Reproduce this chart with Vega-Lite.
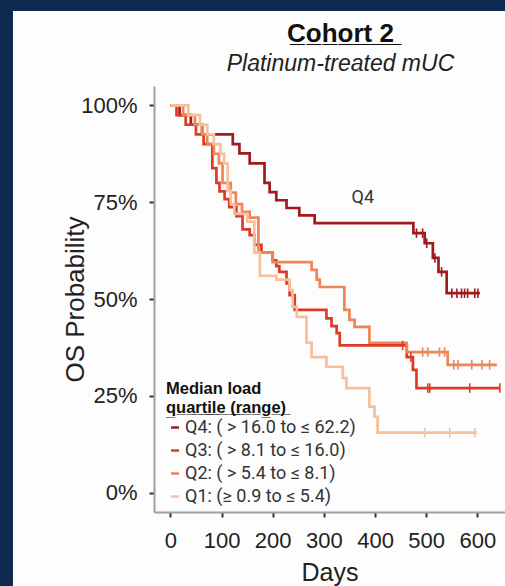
{
  "$schema": "https://vega.github.io/schema/vega-lite/v6.json",
  "width": 351,
  "height": 426,
  "autosize": {"type": "none"},
  "padding": {"left": 154, "top": 86, "right": 0, "bottom": 74},
  "background": "#0f2a50",
  "config": {"font": "Liberation Sans", "view": {"stroke": null}},
  "title": {
    "text": "C\u0332o\u0332h\u0332o\u0332r\u0332t\u0332 \u03322\u0332",
    "subtitle": "Platinum-treated mUC",
    "font": "Liberation Sans",
    "fontSize": 26,
    "fontWeight": "bold",
    "color": "#111111",
    "subtitleFont": "Liberation Sans",
    "subtitleFontSize": 23,
    "subtitleFontStyle": "italic",
    "subtitleColor": "#222222",
    "subtitlePadding": 6,
    "anchor": "middle",
    "frame": "group",
    "dx": 11,
    "offset": -65,
    "zindex": 1
  },
  "datasets": {
    "km": [
      {"g": "Q4", "day": 0, "p": 1.0}, {"g": "Q4", "day": 18, "p": 0.975}, {"g": "Q4", "day": 40, "p": 0.95},
      {"g": "Q4", "day": 62, "p": 0.925}, {"g": "Q4", "day": 122, "p": 0.9}, {"g": "Q4", "day": 135, "p": 0.876},
      {"g": "Q4", "day": 155, "p": 0.85}, {"g": "Q4", "day": 184, "p": 0.8}, {"g": "Q4", "day": 194, "p": 0.776},
      {"g": "Q4", "day": 207, "p": 0.755}, {"g": "Q4", "day": 227, "p": 0.735}, {"g": "Q4", "day": 252, "p": 0.716},
      {"g": "Q4", "day": 282, "p": 0.696}, {"g": "Q4", "day": 475, "p": 0.67}, {"g": "Q4", "day": 497, "p": 0.644},
      {"g": "Q4", "day": 513, "p": 0.606}, {"g": "Q4", "day": 524, "p": 0.57}, {"g": "Q4", "day": 540, "p": 0.515},
      {"g": "Q4", "day": 605, "p": 0.515},

      {"g": "Q3", "day": 0, "p": 1.0}, {"g": "Q3", "day": 12, "p": 0.975}, {"g": "Q3", "day": 30, "p": 0.95},
      {"g": "Q3", "day": 50, "p": 0.925}, {"g": "Q3", "day": 65, "p": 0.9}, {"g": "Q3", "day": 82, "p": 0.838},
      {"g": "Q3", "day": 90, "p": 0.8}, {"g": "Q3", "day": 96, "p": 0.778}, {"g": "Q3", "day": 106, "p": 0.758},
      {"g": "Q3", "day": 115, "p": 0.737}, {"g": "Q3", "day": 129, "p": 0.714}, {"g": "Q3", "day": 141, "p": 0.68},
      {"g": "Q3", "day": 155, "p": 0.665}, {"g": "Q3", "day": 164, "p": 0.64}, {"g": "Q3", "day": 178, "p": 0.62},
      {"g": "Q3", "day": 200, "p": 0.6}, {"g": "Q3", "day": 207, "p": 0.585}, {"g": "Q3", "day": 213, "p": 0.57},
      {"g": "Q3", "day": 227, "p": 0.54}, {"g": "Q3", "day": 233, "p": 0.51}, {"g": "Q3", "day": 243, "p": 0.472},
      {"g": "Q3", "day": 305, "p": 0.45}, {"g": "Q3", "day": 315, "p": 0.43}, {"g": "Q3", "day": 325, "p": 0.412},
      {"g": "Q3", "day": 331, "p": 0.38}, {"g": "Q3", "day": 462, "p": 0.35}, {"g": "Q3", "day": 474, "p": 0.317},
      {"g": "Q3", "day": 481, "p": 0.27}, {"g": "Q3", "day": 644, "p": 0.27},

      {"g": "Q2", "day": 0, "p": 1.0}, {"g": "Q2", "day": 25, "p": 0.975}, {"g": "Q2", "day": 48, "p": 0.95},
      {"g": "Q2", "day": 62, "p": 0.925}, {"g": "Q2", "day": 72, "p": 0.9}, {"g": "Q2", "day": 85, "p": 0.875},
      {"g": "Q2", "day": 95, "p": 0.85}, {"g": "Q2", "day": 102, "p": 0.8}, {"g": "Q2", "day": 118, "p": 0.775},
      {"g": "Q2", "day": 128, "p": 0.745}, {"g": "Q2", "day": 140, "p": 0.725}, {"g": "Q2", "day": 155, "p": 0.71},
      {"g": "Q2", "day": 172, "p": 0.62}, {"g": "Q2", "day": 200, "p": 0.595}, {"g": "Q2", "day": 276, "p": 0.575},
      {"g": "Q2", "day": 286, "p": 0.55}, {"g": "Q2", "day": 292, "p": 0.531}, {"g": "Q2", "day": 340, "p": 0.472},
      {"g": "Q2", "day": 350, "p": 0.446}, {"g": "Q2", "day": 360, "p": 0.428}, {"g": "Q2", "day": 389, "p": 0.387},
      {"g": "Q2", "day": 462, "p": 0.363}, {"g": "Q2", "day": 542, "p": 0.33}, {"g": "Q2", "day": 638, "p": 0.33},

      {"g": "Q1", "day": 0, "p": 1.0}, {"g": "Q1", "day": 35, "p": 0.975}, {"g": "Q1", "day": 58, "p": 0.95},
      {"g": "Q1", "day": 72, "p": 0.925}, {"g": "Q1", "day": 85, "p": 0.9}, {"g": "Q1", "day": 98, "p": 0.875},
      {"g": "Q1", "day": 105, "p": 0.85}, {"g": "Q1", "day": 112, "p": 0.78}, {"g": "Q1", "day": 118, "p": 0.745},
      {"g": "Q1", "day": 125, "p": 0.72}, {"g": "Q1", "day": 150, "p": 0.7}, {"g": "Q1", "day": 164, "p": 0.62},
      {"g": "Q1", "day": 175, "p": 0.56}, {"g": "Q1", "day": 207, "p": 0.55}, {"g": "Q1", "day": 233, "p": 0.523},
      {"g": "Q1", "day": 239, "p": 0.48}, {"g": "Q1", "day": 247, "p": 0.454}, {"g": "Q1", "day": 266, "p": 0.387},
      {"g": "Q1", "day": 276, "p": 0.35}, {"g": "Q1", "day": 305, "p": 0.325}, {"g": "Q1", "day": 337, "p": 0.296},
      {"g": "Q1", "day": 344, "p": 0.27}, {"g": "Q1", "day": 389, "p": 0.222}, {"g": "Q1", "day": 399, "p": 0.196},
      {"g": "Q1", "day": 405, "p": 0.155}, {"g": "Q1", "day": 599, "p": 0.155}
    ],
    "cens": [
      {"g": "Q4", "day": 481, "p": 0.67}, {"g": "Q4", "day": 493, "p": 0.67}, {"g": "Q4", "day": 501, "p": 0.644},
      {"g": "Q4", "day": 517, "p": 0.606}, {"g": "Q4", "day": 530, "p": 0.57}, {"g": "Q4", "day": 550, "p": 0.515},
      {"g": "Q4", "day": 560, "p": 0.515}, {"g": "Q4", "day": 569, "p": 0.515}, {"g": "Q4", "day": 575, "p": 0.515},
      {"g": "Q4", "day": 581, "p": 0.515}, {"g": "Q4", "day": 595, "p": 0.515}, {"g": "Q4", "day": 601, "p": 0.515},
      {"g": "Q3", "day": 454, "p": 0.38}, {"g": "Q3", "day": 470, "p": 0.35}, {"g": "Q3", "day": 503, "p": 0.27},
      {"g": "Q3", "day": 507, "p": 0.27}, {"g": "Q3", "day": 585, "p": 0.27}, {"g": "Q3", "day": 644, "p": 0.27},
      {"g": "Q2", "day": 493, "p": 0.363}, {"g": "Q2", "day": 503, "p": 0.363}, {"g": "Q2", "day": 526, "p": 0.363},
      {"g": "Q2", "day": 536, "p": 0.363}, {"g": "Q2", "day": 554, "p": 0.33}, {"g": "Q2", "day": 562, "p": 0.33},
      {"g": "Q2", "day": 589, "p": 0.33}, {"g": "Q2", "day": 609, "p": 0.33}, {"g": "Q2", "day": 624, "p": 0.33},
      {"g": "Q1", "day": 497, "p": 0.155}, {"g": "Q1", "day": 546, "p": 0.155}, {"g": "Q1", "day": 595, "p": 0.155}
    ]
  },
  "layer": [
    {
      "data": {"values": [{"panel": "background"}]},
      "mark": {"type": "rect", "color": "#fdfdfd"},
      "encoding": {
        "x": {
          "datum": -307.6, "type": "quantitative", "title": "Days",
          "scale": {"domain": [-32, 654], "nice": false, "zero": false},
          "axis": {
            "title": "Days", "values": [0, 100, 200, 300, 400, 500, 600], "grid": false,
            "domainColor": "#a0a0a0", "domainWidth": 2, "tickColor": "#333333", "tickWidth": 2, "tickSize": 5,
            "labelFontSize": 22, "labelColor": "#222222", "labelPadding": 30, "labelBaseline": "alphabetic",
            "labelFlush": false, "labelOverlap": false,
            "titleFontSize": 25, "titleFontWeight": "normal", "titleColor": "#222222",
            "titleY": 68, "titleBaseline": "alphabetic", "zindex": 1
          }
        },
        "x2": {"datum": 3000},
        "y": {
          "datum": 1.2437, "type": "quantitative", "title": "OS Probability",
          "scale": {"domain": [-0.05, 1.05], "nice": false, "zero": false},
          "axis": {
            "title": "OS Probability", "values": [0, 0.25, 0.5, 0.75, 1], "format": ".0%", "grid": false,
            "domainColor": "#a0a0a0", "domainWidth": 2, "tickColor": "#333333", "tickWidth": 2, "tickSize": 5,
            "labelFontSize": 22, "labelColor": "#222222", "labelPadding": 12,
            "titleFontSize": 26, "titleFontWeight": "normal", "titleColor": "#222222",
            "titleX": -71, "titleY": 213, "titleBaseline": "alphabetic", "titleAlign": "center", "zindex": 1
          }
        },
        "y2": {"datum": -3}
      }
    },
    {
      "data": {"name": "km"},
      "mark": {"type": "line", "interpolate": "step-after", "strokeWidth": 2.7},
      "encoding": {
        "x": {"field": "day", "type": "quantitative", "title": "Days"},
        "y": {"field": "p", "type": "quantitative", "title": "OS Probability"},
        "color": {
          "field": "g", "type": "nominal",
          "scale": {"domain": ["Q4", "Q3", "Q2", "Q1"], "range": ["#a11a1e", "#dd3b27", "#ef8554", "#f6c09c"]},
          "legend": {
            "orient": "none", "legendX": 12, "legendY": 295,
            "title": ["Median load", "q\u0332u\u0332a\u0332r\u0332t\u0332i\u0332l\u0332e\u0332 \u0332(\u0332r\u0332a\u0332n\u0332g\u0332e\u0332)\u0332"],
            "titleFont": "Liberation Sans", "titleFontSize": 16.5, "titleFontWeight": "bold",
            "titleLineHeight": 19, "titlePadding": 2, "titleColor": "#111111",
            "labelFont": "Roboto", "labelFontSize": 18, "labelColor": "#333333",
            "labelExpr": "{'Q4': 'Q4: ( > 16.0 to ≤ 62.2)', 'Q3': 'Q3: ( > 8.1 to ≤ 16.0)', 'Q2': 'Q2: ( > 5.4 to ≤ 8.1)', 'Q1': 'Q1: (≥ 0.9 to ≤ 5.4)'}[datum.label]",
            "labelLimit": 400, "labelOffset": 1,
            "symbolType": "stroke", "symbolSize": 64, "symbolStrokeWidth": 2.5,
            "rowPadding": 5, "padding": 0, "zindex": 1
          }
        }
      }
    },
    {
      "data": {"name": "cens"},
      "mark": {"type": "point", "shape": "M0,-1L0,1", "filled": false, "size": 90, "strokeWidth": 1.6, "opacity": 1},
      "encoding": {
        "x": {"field": "day", "type": "quantitative", "title": "Days"},
        "y": {"field": "p", "type": "quantitative", "title": "OS Probability"},
        "color": {"field": "g", "type": "nominal"}
      }
    },
    {
      "data": {"values": [{"day": 376, "p": 0.76, "lab": "Q4"}]},
      "mark": {"type": "text", "font": "Roboto", "fontSize": 18, "color": "#333333"},
      "encoding": {
        "x": {"field": "day", "type": "quantitative", "title": "Days"},
        "y": {"field": "p", "type": "quantitative", "title": "OS Probability"},
        "text": {"field": "lab"}
      }
    }
  ]
}
